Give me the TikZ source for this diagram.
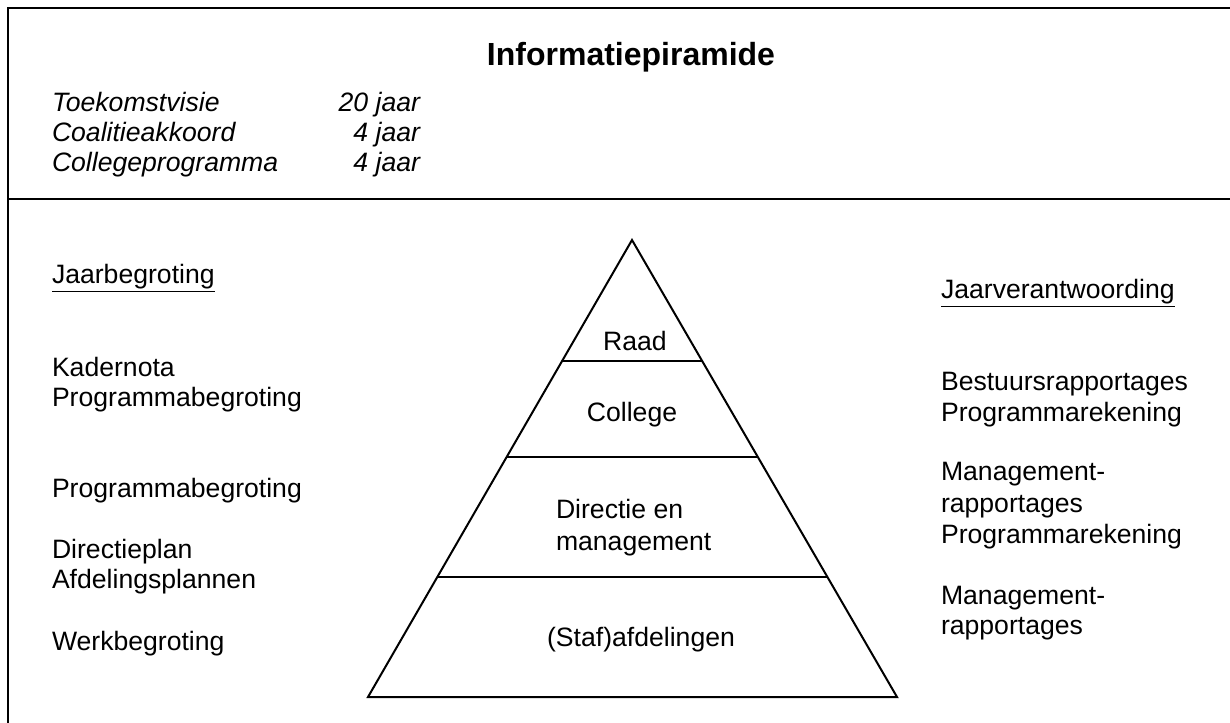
\documentclass[tikz,border=0pt]{standalone}
\usepackage{fontspec}
\setmainfont{Liberation Sans}
\usetikzlibrary{calc}
\tikzset{
  txt/.style={inner sep=0pt, outer sep=0pt, font=\fontsize{13.3}{15.5}\selectfont},
  ttl/.style={inner sep=0pt, font=\fontsize{16}{19}\selectfont\bfseries},
  ital/.style={inner sep=0pt, outer sep=0pt, font=\fontsize{13.3}{15.5}\selectfont\itshape},
  frame/.style={line width=1pt, black},
  pyr/.style={line width=1pt, black, line join=miter}
}
\begin{document}
\begin{tikzpicture}[x=0.5pt, y=-0.5pt]
\useasboundingbox (0,0) rectangle (1230,722);
\clip (0,0) rectangle (1230,722);
% frame
\coordinate (ftl) at (8,8);
\coordinate (ftr) at (1232,8);
\coordinate (fbl) at (8,724);
\coordinate (sl) at (8,199);
\coordinate (sr) at (1232,199);
\draw[frame] (ftr) -- (ftl) -- (fbl);
\draw[frame] (sl) -- (sr);
% header
\node[ttl, anchor=base] (title) at (631,66) {Informatiepiramide};
\node[ital, anchor=base west] (t1) at (52,112) {Toekomstvisie};
\node[ital, anchor=base west] (t2) at (52,141) {Coalitieakkoord};
\node[ital, anchor=base west] (t3) at (52,171) {Collegeprogramma};
\node[ital, anchor=base east] (j1) at (420,112) {20 jaar};
\node[ital, anchor=base east] (j2) at (420,141) {4 jaar};
\node[ital, anchor=base east] (j3) at (420,171) {4 jaar};
% pyramid
\coordinate (apex) at (632,240);
\coordinate (bl) at (368,697);
\coordinate (br) at (897,697);
\draw[pyr] (apex) -- (bl) -- (br) -- cycle;
\coordinate (r1l) at ($(apex)!0.2648!(bl)$);
\coordinate (r1r) at ($(apex)!0.2648!(br)$);
\coordinate (r2l) at ($(apex)!0.4748!(bl)$);
\coordinate (r2r) at ($(apex)!0.4748!(br)$);
\coordinate (r3l) at ($(apex)!0.7374!(bl)$);
\coordinate (r3r) at ($(apex)!0.7374!(br)$);
\draw[pyr] (r1l) -- (r1r);
\draw[pyr] (r2l) -- (r2r);
\draw[pyr] (r3l) -- (r3r);
\node[txt, anchor=base] (raad) at (635,350) {Raad};
\node[txt, anchor=base] (college) at (632,421) {College};
\node[txt, anchor=base west] (dir1) at (556,518) {Directie en};
\node[txt, anchor=base west] (dir2) at (556,550) {management};
\node[txt, anchor=base] (staf) at (641,646) {(Staf)afdelingen};
% left column
\node[txt, anchor=base west] (jb) at (52,283) {\underline{Jaarbegroting}};
\node[txt, anchor=base west] (kn1) at (52,376) {Kadernota};
\node[txt, anchor=base west] (kn2) at (52,406) {Programmabegroting};
\node[txt, anchor=base west] (pb) at (52,497) {Programmabegroting};
\node[txt, anchor=base west] (dp1) at (52,558) {Directieplan};
\node[txt, anchor=base west] (dp2) at (52,588) {Afdelingsplannen};
\node[txt, anchor=base west] (wb) at (52,650) {Werkbegroting};
% right column
\node[txt, anchor=base west] (jv) at (941,298) {\underline{Jaarverantwoording}};
\node[txt, anchor=base west] (br1) at (941,390) {Bestuursrapportages};
\node[txt, anchor=base west] (br2) at (941,421) {Programmarekening};
\node[txt, anchor=base west] (mr1) at (941,480) {Management-};
\node[txt, anchor=base west] (mr2) at (941,512) {rapportages};
\node[txt, anchor=base west] (mr3) at (941,543) {Programmarekening};
\node[txt, anchor=base west] (mm1) at (941,604) {Management-};
\node[txt, anchor=base west] (mm2) at (941,634) {rapportages};
\end{tikzpicture}
\end{document}
